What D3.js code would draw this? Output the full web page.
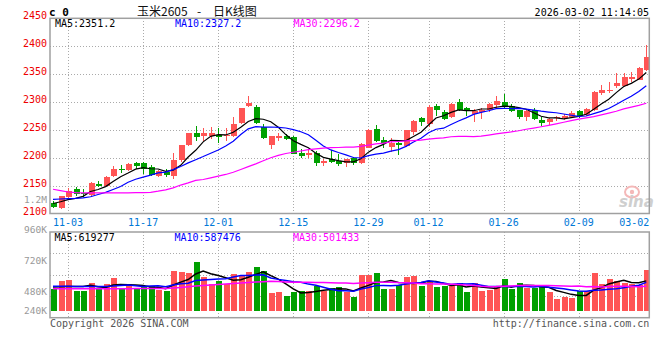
<!DOCTYPE html>
<html><head><meta charset="utf-8">
<script src="https://cdn.jsdelivr.net/npm/d3@7"></script>
<style>
html,body{margin:0;padding:0;background:#fff;}
svg{display:block;}
text{font-family:"DejaVu Sans Mono",monospace;font-size:10px;}
</style></head><body>
<svg id="c" width="660" height="360"></svg>
<script>
const dates = ["10-30","10-31",
"11-03","11-04","11-05","11-06","11-07","11-10","11-11","11-12","11-13","11-14","11-17","11-18","11-19","11-20","11-21","11-24","11-25","11-26","11-27","11-28",
"12-01","12-02","12-03","12-04","12-05","12-08","12-09","12-10","12-11","12-12","12-15","12-16","12-17","12-18","12-19","12-22","12-23","12-24","12-25","12-26","12-29","12-30","12-31",
"01-05","01-06","01-07","01-08","01-09","01-12","01-13","01-14","01-15","01-16","01-19","01-20","01-21","01-22","01-23","01-26","01-27","01-28","01-29","01-30",
"02-02","02-03","02-04","02-05","02-06","02-09","02-10","02-11","02-12","02-13","02-24","02-25","02-26","02-27","03-02"];

const open = [2118.5,2109,2129,2144,2137.5,2133.3,2152.4,2148.8,2166.7,2180.4,2177.4,2189.9,2189.9,2182.7,2167.3,2174.4,2167.3,2195.2,2222,2244,
2238.7,2239.3,2241.6,2238.7,2238.7,2261.9,2292.3,2291.7,2255.3,2222.0,2235.1,2238.7,2237.5,2208.9,2204.8,2208.9,2191.1,2197.0,2193.5,2189.9,
2198.8,2189.9,2217.9,2251.8,2231.5,2219.6,2225.6,2220.8,2246.4,2270.8,2261.3,2293.4,2281.5,2273.2,2299.4,2288.7,2279.2,2281.5,2285.1,2295.2,
2300.6,2293.5,2285.1,2273.2,2285.1,2268.4,2263.7,2270.8,2272.0,2273.2,2283.3,2277.4,2285.1,2316.1,2319.0,2328.0,2328.0,2341.6,2339.9,2357.7];
const high = [2122,2131.5,2145,2147.6,2144.6,2156.5,2159,2167,2184.5,2186.3,2189.9,2192.2,2192,2187.5,2177.4,2180.3,2207.7,2223.2,2245.2,2257.7,
2254.1,2255.3,2253.5,2253.5,2272.6,2289.9,2311.3,2295.2,2260.7,2238.7,2244.6,2242.9,2238.7,2214.9,2214.9,2211.9,2197.0,2213.1,2205.9,2198.2,
2201.8,2225.6,2251.8,2259.5,2237.5,2235.7,2229.7,2250.6,2268.4,2273.2,2295.2,2297.0,2285.1,2298.2,2305.9,2290.5,2287.5,2288.7,2298.2,2311.3,
2314.9,2297.0,2286.3,2285.1,2289.3,2273.2,2271.4,2275.6,2279.2,2283.3,2285.1,2289.3,2319.0,2329.8,2335.7,2351.8,2351.8,2353.6,2362.5,2402.4];
const low = [2109,2108,2128.6,2131.6,2130.4,2131.6,2147,2147.6,2166,2173,2176.2,2179.2,2171.4,2167.3,2165.5,2165.5,2162.5,2192.8,2220.8,2229.7,
2229.7,2232.7,2225.6,2229.7,2237.5,2260.7,2290.5,2260.7,2232.7,2214.9,2229.7,2231.5,2206.0,2200.0,2200.0,2185.1,2185.1,2189.9,2185.1,2183.3,
2186.9,2188.1,2216.7,2228.6,2217.9,2210.7,2204.8,2219.6,2239.9,2256.5,2255.3,2275.6,2267.3,2272.0,2283.3,2274.4,2263.7,2270.2,2282.7,2287.5,
2289.3,2281.5,2269.6,2265.5,2268.4,2257.7,2259.5,2266.7,2268.4,2271.4,2271.4,2275.6,2283.3,2311.9,2316.1,2325.0,2326.8,2335.7,2338.7,2354.8];
const close = [2111.9,2131.0,2140.5,2134.5,2135.7,2155.4,2149.4,2166.0,2179.8,2178.6,2188.7,2185.1,2179.8,2169.0,2176.2,2168.4,2195.8,2222.0,2244.0,2236.3,
2244.6,2244.6,2237.5,2241.1,2260.7,2288.7,2297.6,2262.5,2235.7,2238.1,2238.7,2232.7,2207.1,2203.0,2208.3,2189.9,2194.6,2192.3,2188.7,2197.0,
2189.9,2223.8,2250.6,2229.7,2225.6,2226.8,2222.0,2249.4,2266.7,2263.7,2291.1,2285.1,2269.6,2297.0,2286.3,2283.9,2284.5,2285.1,2297.0,2301.8,
2293.5,2283.3,2273.2,2283.3,2269.6,2262.5,2269.6,2272.6,2274.4,2280.3,2274.4,2288.1,2317.3,2322.0,2322.0,2333.9,2344.0,2344.6,2360.7,2381.5];

const ma5 = [2118,2121,2125,2127,2130.7,2139.4,2143.1,2148.2,2157.3,2165.8,2172.5,2179.6,2182.4,2180.2,2179.8,2175.7,2177.8,2186.3,2201.3,2213.3,
2228.5,2238.3,2241.4,2240.8,2245.7,2254.5,2265.1,2270.1,2269.0,2264.5,2254.5,2241.5,2230.5,2223.9,2218.0,2208.2,2200.6,2197.6,2194.8,2192.5,
2192.5,2198.3,2210.0,2218.2,2223.9,2231.3,2230.9,2230.7,2238.1,2245.7,2258.6,2271.2,2275.2,2281.3,2285.8,2284.4,2284.3,2287.4,2287.4,2290.5,
2292.4,2292.1,2289.8,2287.0,2280.6,2274.4,2271.6,2271.5,2269.7,2271.9,2274.3,2278.0,2286.9,2296.4,2304.8,2316.7,2327.8,2333.3,2341.0,2352.9];
const ma10 = [2125.5,2126,2126.5,2127,2128,2130,2134,2138,2143,2148.3,2156.0,2161.4,2165.3,2168.8,2172.8,2174.1,2178.7,2184.3,2190.8,2196.5,
2202.1,2208.1,2213.8,2221.1,2229.5,2241.5,2251.7,2255.8,2254.9,2255.1,2254.5,2253.3,2250.3,2246.5,2241.2,2231.4,2221.1,2214.0,2209.3,2205.2,
2200.4,2199.5,2203.8,2206.5,2208.2,2211.9,2214.6,2220.4,2228.2,2234.8,2244.9,2251.1,2253.0,2259.7,2265.8,2271.5,2277.7,2281.3,2284.3,2288.1,
2288.4,2288.2,2288.6,2287.2,2285.5,2283.4,2281.9,2280.6,2278.4,2276.2,2274.3,2274.8,2279.2,2283.1,2288.3,2295.5,2302.9,2310.1,2318.7,2328.9];
const ma30 = [2143.5,2141,2138.5,2137.5,2137,2137,2137,2137,2137,2137,2137,2137.5,2137.5,2138,2140,2142.5,2146,2151,2155,2159.5,
2161,2164,2167,2170,2174,2179,2184,2189,2194.5,2200.0,2204.2,2207.6,2209.8,2212.1,2214.5,2215.7,2217.2,2218.0,2218.3,2219.0,
2219.0,2220.3,2222.6,2224.7,2226.3,2228.3,2229.1,2230.1,2230.8,2231.7,2233.3,2234.6,2235.7,2237.6,2238.4,2238.2,2237.8,2238.6,2240.6,2242.7,
2244.6,2246.2,2248.4,2251.1,2253.2,2255.6,2258.1,2260.8,2263.6,2266.4,2269.2,2271.4,2273.6,2276.7,2279.9,2283.4,2287.5,2290.7,2293.8,2297.7];

const volume = [458000,607000,628000,409000,409000,573000,458000,552000,669000,458000,552000,444000,499000,505000,438000,403000,818000,791000,777000,1003000,
696000,546000,607000,546000,765000,745000,798000,900000,812000,368000,389000,300000,389000,403000,409000,505000,409000,471000,491000,389000,
286000,730000,730000,777000,444000,444000,525000,696000,710000,512000,607000,491000,512000,505000,573000,389000,573000,409000,438000,505000,
648000,444000,573000,479000,471000,525000,389000,239000,286000,266000,403000,403000,777000,546000,648000,607000,573000,546000,525000,832000];
const volMa5 = [490,495,500,500,502,525,495,480,532,542,538,535,524,492,488,458,533,591,645,758,
817,763,726,680,632,642,692,751,804,725,653,554,452,370,378,401,423,439,457,453,
409,473,525,582,593,625,584,577,564,577,610,603,566,525,538,494,510,490,476,463,
515,489,522,530,523,498,487,421,382,341,317,319,427,479,555,596,630,584,580,617].map(v=>v*1000);
const volMa10 = [505,505,505,504,503,503,503,503,510,522,532,515,502,512,515,498,534,558,569,623,
637,648,658,663,695,729,727,738,742,678,648,623,601,587,551,527,488,446,413,416,
405,448,482,520,523,517,529,551,573,585,618,594,572,545,558,552,557,528,501,500,
504,500,506,503,493,507,488,471,456,432,408,403,424,431,448,456,475,506,529,586].map(v=>v*1000);
const volMa30 = [455,455,455,455,455,456,456,457,457,458,458,459,459,460,460,461,470,482,495,510,
522,533,543,552,562,572,582,592,600,608,606,595,587,587,587,585,583,581,575,572,
563,573,581,590,590,591,582,578,576,560,557,555,552,550,544,532,525,508,496,500,
509,514,520,522,525,525,525,517,510,506,510,499,500,493,500,505,507,502,495,506].map(v=>v*1000);

const priceTicks = [2100,2150,2200,2250,2300,2350,2400,2450];
const volTicks = [240000,480000,720000,960000,1200000];
const volTickLabels = ["240K","480K","720K","960K","1.2M"];
const dateTicks = ["11-03","11-17","12-01","12-15","12-29","01-12","01-26","02-09","03-02"];
const priceMaLabels = ["MA5:2351.2","MA10:2327.2","MA30:2296.2"];
const volMaLabels = ["MA5:619277","MA10:587476","MA30:501433"];
const symbolTitle = ["玉米2605","-","日K线图"];
const timestamp = "2026-03-02 11:14:05";

// ---- layout & style ----
const L=50, R=649.3;
const mainTop=18.3, mainBot=213.5;
const volTop=232, volBot=317.7, volBase=311;
const RED="#ff5454", GREEN="#00a000";
const MA_COLORS=["#000000","#0000ff","#ff00ff"];
const GRID="#aaaaaa", FRAME="#a0a0a0";

const svg=d3.select("#c");
const x=d3.scalePoint().domain(dates).range([53,646.3]);
const y=d3.scaleLinear().domain([2100,2450]).range([mainBot,mainTop]);
const yVol=d3.scaleLinear().domain([0,1000000]).range([volBase,volBase-48.8]);
const yVolLab=d3.scaleLinear().domain([480000,1200000]).range([294.5,202.5]);

const idx=d3.range(dates.length);

// gridlines
const gx=dateTicks.filter(d=>x(d)<R-6);
const grid=svg.append("g").attr("stroke",GRID).attr("stroke-dasharray","1,2").attr("shape-rendering","crispEdges");
grid.selectAll(".hm").data(priceTicks.filter(v=>v>2100&&v<2450)).join("line")
  .attr("x1",L).attr("x2",R).attr("y1",d=>Math.round(y(d))+0.5).attr("y2",d=>Math.round(y(d))+0.5);
grid.selectAll(".vm").data(gx).join("line")
  .attr("x1",d=>Math.round(x(d))+0.5).attr("x2",d=>Math.round(x(d))+0.5).attr("y1",mainTop).attr("y2",mainBot);
const vgy=[1,2,3].map(k=>volTop+k*(volBot-volTop)/4);
grid.selectAll(".hv").data(vgy).join("line")
  .attr("x1",L).attr("x2",R).attr("y1",d=>Math.round(d)+0.5).attr("y2",d=>Math.round(d)+0.5);
grid.selectAll(".vv").data(gx).join("line")
  .attr("x1",d=>Math.round(x(d))+0.5).attr("x2",d=>Math.round(x(d))+0.5).attr("y1",volTop).attr("y2",volBot);

// watermark
const wm=svg.append("g");
wm.append("ellipse").attr("cx",632).attr("cy",192).attr("rx",7).attr("ry",5.5).attr("fill","none").attr("stroke","#f4b8b8").attr("stroke-width",2);
wm.append("circle").attr("cx",632).attr("cy",192).attr("r",2.2).attr("fill","#f4b8b8");
wm.append("text").attr("x",619).attr("y",207).attr("fill","#cfcfcf")
  .style("font-family","'DejaVu Sans',sans-serif").style("font-size","15px").style("font-weight","bold").style("font-style","italic").text("sina");

// candles
const cg=svg.append("g").attr("shape-rendering","crispEdges");
cg.selectAll(".wick").data(idx).join("line")
  .attr("x1",i=>Math.round(x(dates[i]))+0.5).attr("x2",i=>Math.round(x(dates[i]))+0.5)
  .attr("y1",i=>y(high[i])).attr("y2",i=>y(low[i]))
  .attr("stroke",i=>close[i]>=open[i]?RED:GREEN).attr("stroke-width",1);
cg.selectAll(".body").data(idx).join("rect")
  .attr("x",i=>Math.round(x(dates[i]))-2.5+0.5).attr("width",6)
  .attr("y",i=>y(Math.max(open[i],close[i])))
  .attr("height",i=>Math.max(1,Math.abs(y(open[i])-y(close[i]))))
  .attr("fill",i=>close[i]>=open[i]?RED:GREEN);

// price MAs
const lineP=d3.line().x((v,i)=>x(dates[i])).y(v=>y(v));
[ma5,ma10,ma30].forEach((arr,k)=>{
  svg.append("path").attr("d",lineP(arr)).attr("fill","none").attr("stroke",MA_COLORS[k]).attr("stroke-width",1.2);
});

// volume bars
const vg=svg.append("g").attr("shape-rendering","crispEdges");
vg.selectAll("rect").data(idx).join("rect")
  .attr("x",i=>Math.round(x(dates[i]))-2.5+0.5).attr("width",6)
  .attr("y",i=>yVol(volume[i])).attr("height",i=>volBase-yVol(volume[i]))
  .attr("fill",i=>close[i]>=open[i]?RED:GREEN);
const lineV=d3.line().x((v,i)=>x(dates[i])).y(v=>yVol(v));
[volMa5,volMa10,volMa30].forEach((arr,k)=>{
  svg.append("path").attr("d",lineV(arr)).attr("fill","none").attr("stroke",MA_COLORS[k]).attr("stroke-width",1.5);
});

// frames
svg.append("rect").attr("x",L).attr("y",mainTop).attr("width",R-L).attr("height",mainBot-mainTop)
  .attr("fill","none").attr("stroke",FRAME).attr("stroke-width",1.5);
svg.append("rect").attr("x",L).attr("y",volTop).attr("width",R-L).attr("height",volBot-volTop)
  .attr("fill","none").attr("stroke",FRAME).attr("stroke-width",1.5);

// price axis labels
svg.append("g").selectAll("text").data(priceTicks).join("text")
  .attr("x",47).attr("y",d=>y(d)+1).attr("text-anchor","end").attr("fill","#ee0000").text(d=>d);
// volume axis labels
svg.append("g").selectAll("text").data(volTicks).join("text")
  .attr("x",47).attr("y",d=>Math.min(yVolLab(d),314)).attr("text-anchor","end").attr("fill","#999999")
  .style("font-size","9.5px").text((d,i)=>volTickLabels[i]);
// date labels
svg.append("g").selectAll("text").data(dateTicks).join("text")
  .attr("x",d=>x(d)+15>R?R:x(d)).attr("y",225.5)
  .attr("text-anchor",d=>x(d)+15>R?"end":"middle").attr("fill","#0078d7").text(d=>d);

// headers
const maX=[55,175,293.5];
svg.append("g").selectAll("text").data(priceMaLabels).join("text")
  .attr("x",(d,i)=>maX[i]).attr("y",27).attr("fill",(d,i)=>MA_COLORS[i]).text(d=>d);
svg.append("g").selectAll("text").data(volMaLabels).join("text")
  .attr("x",(d,i)=>maX[i]-0.5).attr("y",241).attr("fill",(d,i)=>MA_COLORS[i]).text(d=>d);

svg.append("text").attr("x",49).attr("y",15.7).style("font-size","11px").style("font-weight","bold").attr("fill","#000").text("c 0");
const tx=[137,197,213];
svg.append("g").selectAll("text").data(symbolTitle).join("text")
  .attr("x",(d,i)=>tx[i]).attr("y",15.7).attr("fill","#111")
  .style("font-family","'Noto Sans CJK SC',sans-serif").style("font-size","12px").text(d=>d);
svg.append("text").attr("x",649).attr("y",16).attr("text-anchor","end").attr("fill","#000").text(timestamp);

svg.append("text").attr("x",50).attr("y",326.5).attr("fill","#555").text("Copyright 2026 SINA.COM");
svg.append("text").attr("x",649.3).attr("y",326.5).attr("text-anchor","end").attr("fill","#555").text("http://finance.sina.com.cn");
</script>
</body></html>
